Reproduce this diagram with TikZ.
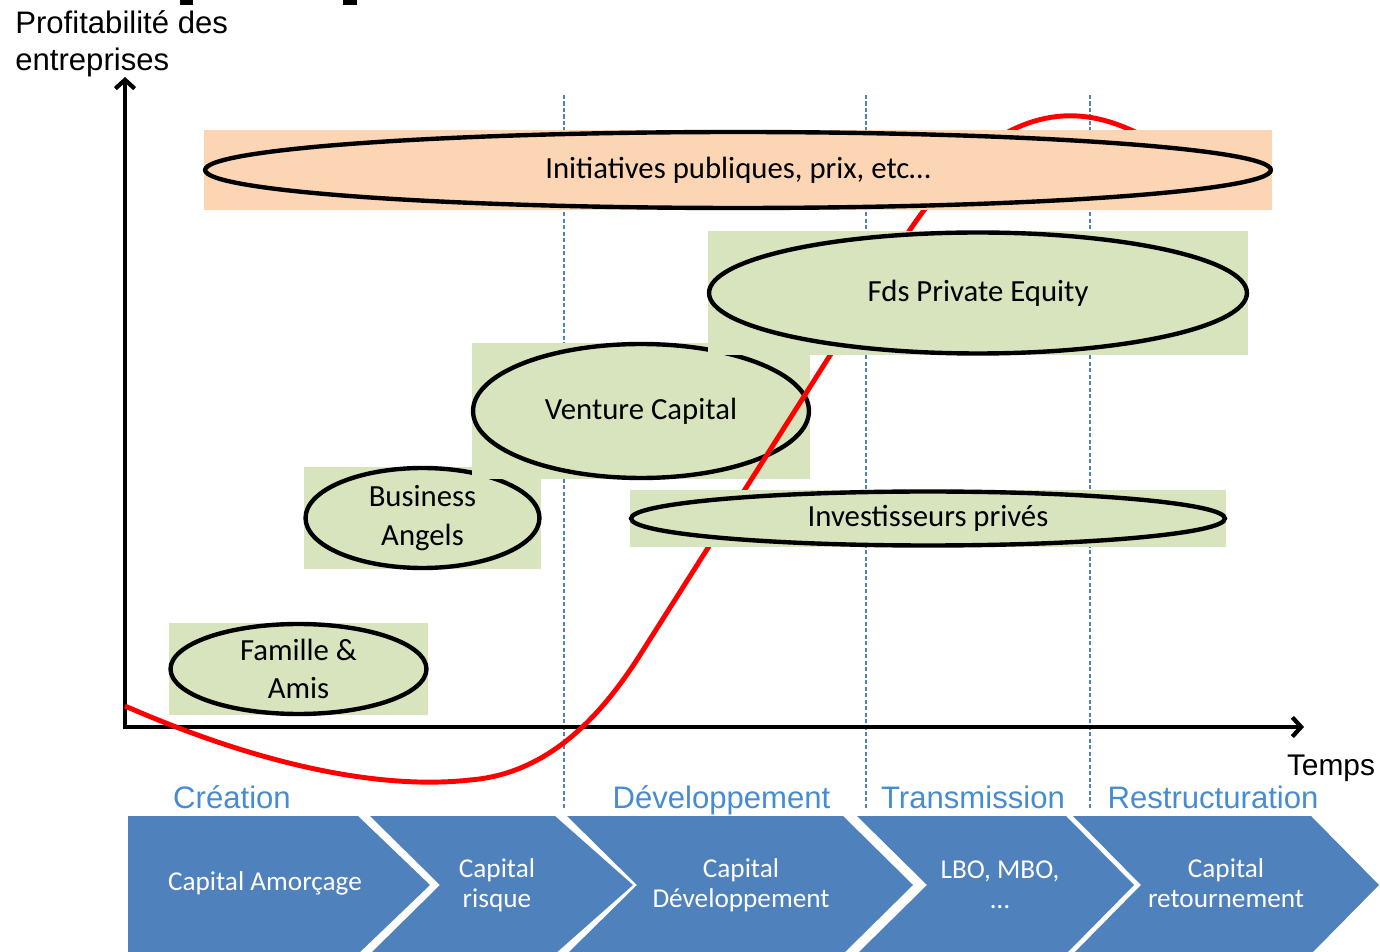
\documentclass[tikz,border=0pt]{standalone}
\usepackage{fontspec}
\setmainfont{Carlito}
\newfontfamily\arialf{Liberation Sans}
\usetikzlibrary{shapes.geometric, arrows.meta}
\definecolor{boxgreen}{RGB}{215,228,189}
\definecolor{boxpeach}{RGB}{252,213,181}
\definecolor{chevblue}{RGB}{79,129,189}
\definecolor{phaseblue}{RGB}{70,140,210}
\definecolor{sepblue}{RGB}{79,129,189}
\newcommand{\boxfnt}{\fontsize{17.5}{21.8}\selectfont}
\newcommand{\chevfnt}{\fontsize{15.5}{17}\selectfont}
\newcommand{\labfnt}{\arialf\fontsize{17.7}{21}\selectfont}
\tikzset{
  gbox/.style={fill=boxgreen, inner sep=0pt, draw=none},
  pbox/.style={fill=boxpeach, inner sep=0pt, draw=none},
  ell/.style={ellipse, draw=black, line width=2.5pt, inner sep=0pt, font=\boxfnt, align=center},
  chev/.style={fill=chevblue},
  chevtxt/.style={text=white, font=\chevfnt, align=center, inner sep=0pt},
  phase/.style={text=phaseblue, font=\labfnt, inner sep=0pt, anchor=base},
  sepline/.style={draw=sepblue, line width=1.2pt, dash pattern=on 2.5pt off 1.2pt},
  axisline/.style={line width=2.4pt, line join=miter, {Straight Barb[length=5pt,width=11pt]}-{Straight Barb[length=5pt,width=11pt]}},
  redcurve/.style={draw=red, line width=2.8pt}
}
\begin{document}
\begin{tikzpicture}[x=0.02cm,y=-0.02cm]
\useasboundingbox (0,0) rectangle (1380,952);
% cut-off title fragments
\fill (180,0) rectangle (193,5);
\fill (343,0) rectangle (357,5);
% axis labels
\node[font=\labfnt, align=left, anchor=north west, inner sep=0pt] (ylab) at (15,10) {Profitabilité des\\entreprises};
\node[font=\arialf\fontsize{17}{20}\selectfont, anchor=base, inner sep=0pt] (xlab) at (1331,775) {Temps};
% phase separators
\coordinate (s1t) at (564,95); \coordinate (s1b) at (564,808);
\coordinate (s2t) at (866,95); \coordinate (s2b) at (866,808);
\coordinate (s3t) at (1090,95); \coordinate (s3b) at (1090,808);
\draw[sepline] (s1t) -- (s1b);
\draw[sepline] (s2t) -- (s2b);
\draw[sepline] (s3t) -- (s3b);
% axes
\coordinate (O) at (125,727);
\coordinate (ytop) at (125,77);
\coordinate (xend) at (1304,727);
\draw[axisline] (ytop) -- (O) -- (xend);
% Famille & Amis
\node[gbox, minimum width=5.18cm, minimum height=1.84cm] (famR) at (298.5,669) {};
\node[ell, minimum width=5.12cm, minimum height=1.8cm] (famE) at (famR.center) {Famille \&\\Amis};
% Business Angels
\node[gbox, minimum width=4.74cm, minimum height=2.04cm] (baR) at (422.5,518) {};
\node[ell, minimum width=4.68cm, minimum height=2.0cm] (baE) at (baR.center) {Business\\Angels};
% Venture Capital
\node[gbox, minimum width=6.76cm, minimum height=2.72cm] (vcR) at (641,411) {};
\node[ell, minimum width=6.72cm, minimum height=2.68cm] (vcE) at (vcR.center) {Venture Capital};
% profitability curve
\draw[redcurve] (125,706) .. controls (260,765) and (380,790) .. (470,780)
  .. controls (545,774) and (598,721) .. (640,655)
  -- (900,245)
  .. controls (948,170) and (1000,120) .. (1063,116)
  .. controls (1100,114) and (1130,128) .. (1160,145);
% Investisseurs privés
\node[gbox, minimum width=11.92cm, minimum height=1.14cm] (invR) at (928,518.5) {};
\node[ell, minimum width=11.88cm, minimum height=1.08cm] (invE) at (invR.center) {Investisseurs privés};
% Fds Private Equity
\node[gbox, minimum width=10.8cm, minimum height=2.48cm] (fdsR) at (978,293) {};
\node[ell, minimum width=10.76cm, minimum height=2.42cm] (fdsE) at (fdsR.center) {Fds Private Equity};
% Initiatives publiques
\node[pbox, minimum width=21.36cm, minimum height=1.6cm] (iniR) at (738,170) {};
\node[ell, minimum width=21.32cm, minimum height=1.52cm] (iniE) at (iniR.center) {Initiatives publiques, prix, etc…};
% phase labels
\node[phase] (ph1) at (232,808) {Création};
\node[phase] (ph2) at (721.5,808) {Développement};
\node[phase] (ph3) at (973,808) {Transmission};
\node[phase] (ph4) at (1213,808) {Restructuration};
% chevrons
\fill[chev] (128,816) -- (358,816) -- (430,885) -- (358,954) -- (128,954) -- cycle;
\fill[chev] (370,816) -- (555,816) -- (633,885) -- (555,954) -- (370,954) -- (440,885) -- cycle;
\fill[chev] (567,816) -- (843,816) -- (913,885) -- (843,954) -- (567,954) -- (637,885) -- cycle;
\fill[chev] (857,816) -- (1066,816) -- (1134,885) -- (1066,954) -- (857,954) -- (927,885) -- cycle;
\fill[chev] (1073,816) -- (1311,816) -- (1379,885) -- (1311,954) -- (1073,954) -- (1141,885) -- cycle;
\node[chevtxt] (c1) at (265,883) {Capital Amorçage};
\node[chevtxt] (c2) at (497,885) {Capital\\risque};
\node[chevtxt] (c3) at (741,885) {Capital\\Développement};
\node[chevtxt] (c4) at (1000,885) {LBO, MBO,\\…};
\node[chevtxt] (c5) at (1226,883) {Capital\\retournement};
\end{tikzpicture}
\end{document}
